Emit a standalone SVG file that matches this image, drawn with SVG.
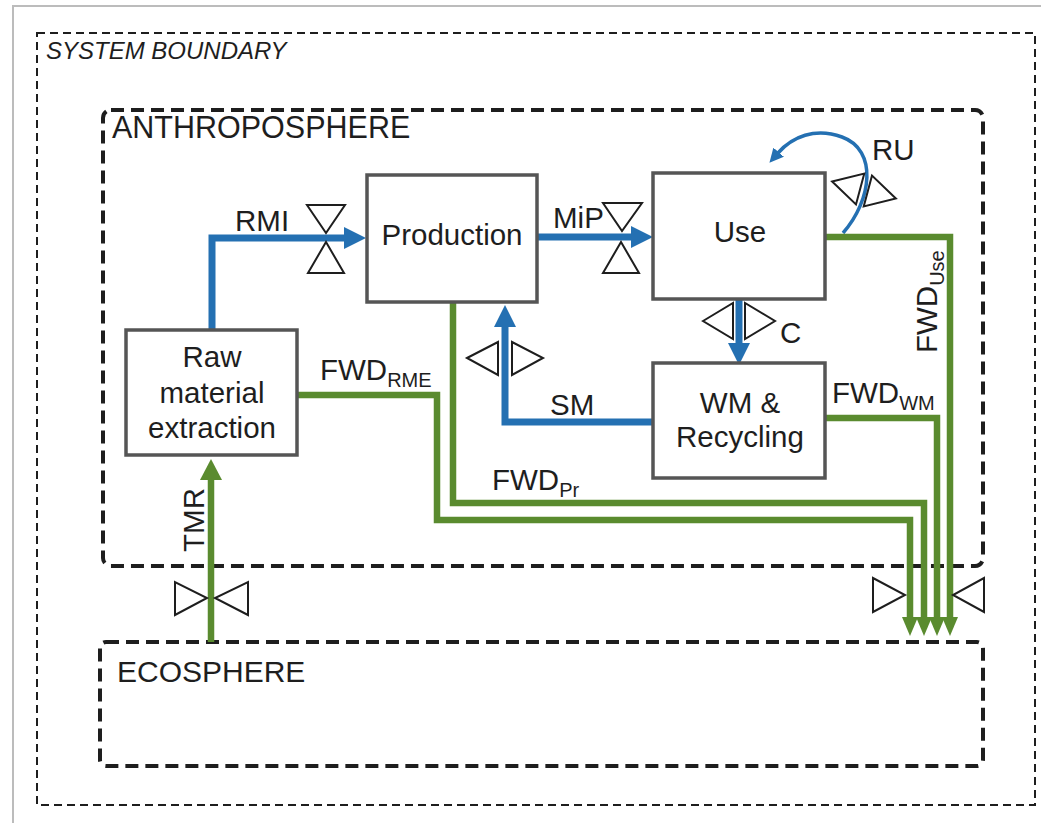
<svg xmlns="http://www.w3.org/2000/svg" width="1041" height="823" viewBox="0 0 1041 823">
<style>
text{font-family:"Liberation Sans",Arial,sans-serif;fill:#1e1e1e;font-size:29.5px}
.c{text-anchor:middle}
.sub{font-size:20px}
.box{fill:#fff;stroke:#555;stroke-width:3.5}
.blue{fill:none;stroke:#2470b2;stroke-width:7}
.green{fill:none;stroke:#5a8b2f;stroke-width:6.5}
.valve{fill:#fff;stroke:#1e1e1e;stroke-width:2}
.sys{fill:none;stroke:#1e1e1e;stroke-width:2;stroke-dasharray:8 5}
.sphere{fill:none;stroke:#1e1e1e;stroke-width:4;stroke-dasharray:13 7}
</style>
<defs>
<marker id="ab" markerUnits="userSpaceOnUse" markerWidth="22" markerHeight="22" refX="1" refY="11" orient="auto"><path d="M0,0 L22,11 L0,22 z" fill="#2470b2"/></marker>
<marker id="abs" markerUnits="userSpaceOnUse" markerWidth="14" markerHeight="14" refX="1" refY="7" orient="auto"><path d="M0,0 L14,7 L0,14 z" fill="#2470b2"/></marker>
<marker id="ag" markerUnits="userSpaceOnUse" markerWidth="21" markerHeight="22" refX="1" refY="11" orient="auto"><path d="M0,0 L21,11 L0,22 z" fill="#5a8b2f"/></marker>
<marker id="ags" markerUnits="userSpaceOnUse" markerWidth="19" markerHeight="16" refX="1" refY="8" orient="auto"><path d="M0,0 L19,8 L0,16 z" fill="#5a8b2f"/></marker>
</defs>
<rect width="1041" height="823" fill="#fff"/>
<path d="M13,823 V6 H1041" fill="none" stroke="#bcbcbc" stroke-width="2"/>

<g id="system-boundary">
<rect class="sys" x="37" y="33" width="998" height="772"/>
<text x="46" y="59" style="font-style:italic;font-size:24px">SYSTEM BOUNDARY</text>
</g>
<g id="anthroposphere">
<rect class="sphere" x="103" y="110" width="880" height="456" rx="8"/>
<text x="112" y="138" style="font-size:30.5px">ANTHROPOSPHERE</text>
</g>
<g id="ecosphere">
<rect class="sphere" x="100" y="642" width="883" height="124" rx="6"/>
<text x="117" y="682" style="font-size:30px">ECOSPHERE</text>
</g>

<g id="connectors">
<path class="blue" d="M212,330 V238 H345" marker-end="url(#ab)"/>
<path class="blue" d="M537,237 H632" marker-end="url(#ab)"/>
<path class="blue" d="M739,299 V344" marker-end="url(#ab)"/>
<path class="blue" d="M653,422 H505 V326" marker-end="url(#ab)"/>
<path fill="none" stroke="#2470b2" stroke-width="3.5" d="M843,233 C872,200 878,150 842,137 C815,127 792,137 778,153" marker-end="url(#abs)"/>
<path class="green" d="M211,642 V479" marker-end="url(#ag)"/>
<path class="green" d="M297,395 H437 V520 H910 V618" marker-end="url(#ags)"/>
<path class="green" d="M453,302 V503 H924 V618" marker-end="url(#ags)"/>
<path class="green" d="M825,418 H937 V618" marker-end="url(#ags)"/>
<path class="green" d="M825,237 H950 V618" marker-end="url(#ags)"/>
<text x="235" y="231">RMI</text>
<text x="553" y="228">MiP</text>
<text x="780" y="343">C</text>
<text x="872" y="160">RU</text>
<text x="550" y="415">SM</text>
<text x="320" y="380">FWD<tspan class="sub" dy="7">RME</tspan></text>
<text x="492" y="490">FWD<tspan class="sub" dy="7">Pr</tspan></text>
<text x="832" y="403">FWD<tspan class="sub" dy="7">WM</tspan></text>
<text transform="translate(937,353) rotate(-90)">FWD<tspan class="sub" dy="7">Use</tspan></text>
<text class="c" transform="translate(204,520) rotate(-90)">TMR</text>
</g>

<g id="valves">
<polygon class="valve" points="307,205 345,205 326,233"/>
<polygon class="valve" points="326,242 308,273 344,273"/>
<polygon class="valve" points="603,203 642,203 622,231"/>
<polygon class="valve" points="621,242 603,273 639,273"/>
<polygon class="valve" points="703,321 733,303 733,339"/>
<polygon class="valve" points="745,303 745,339 775,321"/>
<polygon class="valve" points="467,358 498,342 498,375"/>
<polygon class="valve" points="512,342 512,375 543,358"/>
<polygon class="valve" points="175,582 175,615 207,598"/>
<polygon class="valve" points="248,582 248,615 215,598"/>
<polygon class="valve" points="873,578 873,612 905,595"/>
<polygon class="valve" points="984,578 984,612 953,595"/>
<g transform="translate(864,190) rotate(15)">
<polygon class="valve" points="-33,0 -4,-16 -4,16"/>
<polygon class="valve" points="4,-16 4,16 33,0"/>
</g>
</g>

<g id="raw-material-extraction">
<rect class="box" x="126" y="330" width="171" height="125"/>
<text class="c" x="212" y="367">Raw</text>
<text class="c" x="212" y="403">material</text>
<text class="c" x="212" y="438">extraction</text>
</g>
<g id="production">
<rect class="box" x="367" y="175" width="170" height="127"/>
<text class="c" x="452" y="245">Production</text>
</g>
<g id="use">
<rect class="box" x="653" y="173" width="172" height="126"/>
<text class="c" x="740" y="242">Use</text>
</g>
<g id="wm-recycling">
<rect class="box" x="653" y="363" width="172" height="115"/>
<text class="c" x="740" y="413">WM &amp;</text>
<text class="c" x="740" y="447">Recycling</text>
</g>
</svg>
